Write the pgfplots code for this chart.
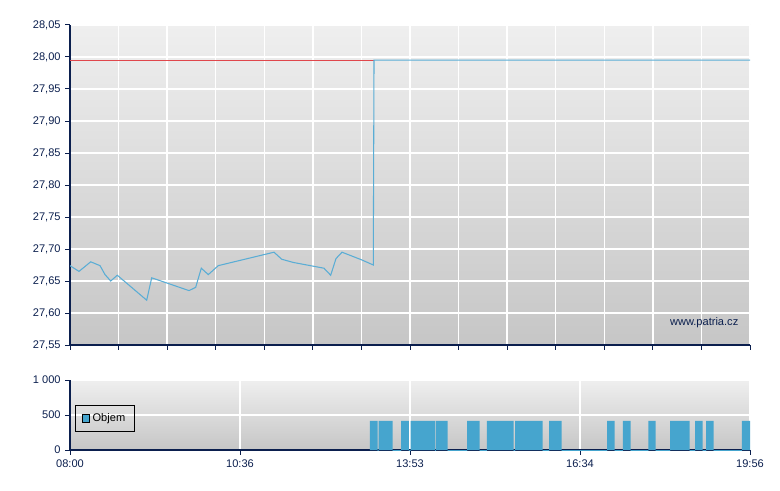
\documentclass[border=0pt]{standalone}
\usepackage{fontspec}
\setmainfont{Liberation Sans}
\usepackage{pgfplots}
\pgfplotsset{compat=1.18}
\definecolor{navy}{HTML}{0B1F4E}
\definecolor{lineblue}{HTML}{5AADD5}
\definecolor{barblue}{HTML}{46A5CE}
\definecolor{refred}{HTML}{E0474C}
\definecolor{bgtop}{HTML}{EFEFEF}
\definecolor{bgbot}{HTML}{C6C6C6}
\pgfplotsset{
  patria/.style={
    scale only axis,
    width=510pt,
    xmin=0, xmax=14,
    anchor=south west,
    axis lines*=left,
    axis line style={-, draw=navy, line width=0.9pt},
    tick style={draw=navy, line width=0.75pt},
    tick align=outside,
    major tick length=3.5pt,
    tick label style={font=\fontsize{8.3}{10}\selectfont, text=navy},
    grid=major,
    major grid style={draw=white, line width=1pt},
    axis background/.style={top color=bgtop, bottom color=bgbot},
  }
}
\begin{document}
\begin{tikzpicture}[x=1pt,y=1pt]
  \useasboundingbox (0,0) rectangle (585,367.5);
  % price panel
  \begin{axis}[
    patria,
    at={(52.5pt,108.75pt)},
    height=240pt,
    ymin=27.55, ymax=28.05,
    ytick={27.55,27.6,27.65,27.7,27.75,27.8,27.85,27.9,27.95,28,28.05},
    yticklabel style={/pgf/number format/.cd, fixed, fixed zerofill,
      precision=2, use comma, assume math mode=true},
    xtick={0,1,...,14},
    xticklabels={},
  ]
    \addplot[refred, line width=0.8pt] coordinates {(0,27.995) (6.259,27.995)};
    \addplot[lineblue, line width=0.8pt] coordinates {
      (0,27.674) (0.185,27.665) (0.426,27.680) (0.618,27.674) (0.721,27.660)
      (0.838,27.650) (0.974,27.659) (1.579,27.620) (1.682,27.655) (2.450,27.635)
      (2.587,27.640) (2.703,27.670) (2.847,27.660) (3.053,27.674) (4.200,27.695)
      (4.359,27.684) (4.597,27.679) (5.229,27.670) (5.367,27.659) (5.476,27.685)
      (5.600,27.695) (6.006,27.683) (6.244,27.675) (6.259,27.995) (14,27.995)
    };
    \node[anchor=east, text=navy, font=\fontsize{8.3}{10}\selectfont]
      at (rel axis cs:0.9897,0.069) {www.patria.cz};
  \end{axis}
  % volume panel
  \begin{axis}[
    patria,
    at={(52.5pt,30pt)},
    height=52.5pt,
    ymin=0, ymax=1000,
    ytick={0,500,1000},
    yticklabels={0,500,1 000},
    xtick={0,3.5,7,10.5,14},
    xticklabels={08:00,10:36,13:53,16:34,19:56},
    legend style={at={(0.0074,0.643)}, anchor=north west, draw=black,
      fill=none, line width=0.6pt, font=\fontsize{8.3}{10}\selectfont,
      inner xsep=5pt, inner ysep=4pt},
    legend image code/.code={
      \draw[fill=barblue, draw=black, line width=0.5pt]
        (0pt,-2.7pt) rectangle (5.4pt,2.7pt);},
  ]
    \addplot[fill=barblue, draw=none, const plot mark left] coordinates {
      (6.176,415) (6.335,-50) (6.356,415) (6.644,-50) (6.815,415) (6.979,-50)
      (7.014,415) (7.515,-50) (7.535,415) (7.776,-50) (8.174,415) (8.435,-50)
      (8.585,415) (9.135,-50) (9.162,415) (9.732,-50) (9.862,415) (10.123,-50)
      (11.056,415) (11.215,-50) (11.385,415) (11.544,-50) (11.906,415) (12.058,-50)
      (12.353,415) (12.759,-50) (12.868,415) (13.026,-50) (13.094,415) (13.253,-50)
      (13.835,415) (14,415)
    } \closedcycle;
    \addlegendentry{Objem}
  \end{axis}
\end{tikzpicture}
\end{document}
